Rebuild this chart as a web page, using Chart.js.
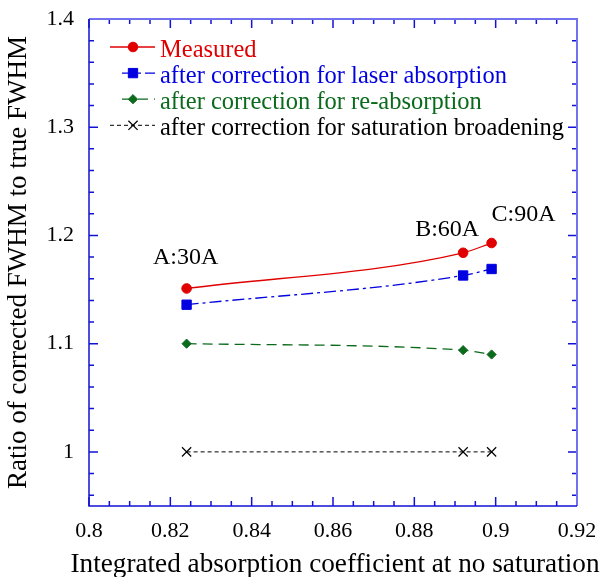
<!DOCTYPE html>
<html>
<head>
<meta charset="utf-8">
<script src="https://cdn.jsdelivr.net/npm/chart.js@4.4.0/dist/chart.umd.min.js"></script>
<style>
  html, body { margin: 0; padding: 0; background: #fff; }
  canvas { display: block; }
</style>
</head>
<body>
<canvas id="fwhmChart" width="601" height="577"></canvas>
<script>
// Data
const absorptionCoeff = [0.824, 0.892, 0.899];
const measuredRatio = [1.151, 1.184, 1.193];
const laserCorrectedRatio = [1.136, 1.163, 1.169];
const reabsCorrectedRatio = [1.100, 1.094, 1.090];
const saturationCorrectedRatio = [1.000, 1.000, 1.000];
const pointNames = ["A:30A", "B:60A", "C:90A"];
const seriesNames = [
    "Measured",
    "after correction for laser absorption",
    "after correction for re-absorption",
    "after correction for saturation broadening"
];
const xTickLabels = ["0.8", "0.82", "0.84", "0.86", "0.88", "0.9", "0.92"];
const yTickLabels = ["1", "1.1", "1.2", "1.3", "1.4"];
const xTitle = "Integrated absorption coefficient at no saturation";
const yTitle = "Ratio of corrected FWHM to true FWHM";

const serif = "'Liberation Serif', 'Times New Roman', serif";
const red = "#e00000";
const blue = "#0000e0";
const green = "#0b6a1c";
const black = "#000000";
const axisBlue = "#1212d4";
const frameLight = "#7272ee";

// label offsets (px) for the A/B/C notes above the measured points
const noteOffsets = [[-1, -24], [-16, -17], [32, -22]];

function toPoints(ys) {
    return absorptionCoeff.map((x, i) => ({ x: x, y: ys[i] }));
}

function labelFor(list, value) {
    const hit = list.find(l => Math.abs(parseFloat(l) - value) < 1e-9);
    return hit === undefined ? "" : hit;
}

// inward ticks on all four sides + frame
const frameTicks = {
    id: "frameTicks",
    afterDatasetsDraw(chart) {
        const { ctx, chartArea: a, scales } = chart;
        const xs = scales.x, ys = scales.y;
        ctx.save();
        ctx.lineWidth = 1.5;
        ctx.strokeStyle = axisBlue;
        for (let i = 0; i <= 24; i++) {
            const v = 0.8 + i * 0.005;
            const px = xs.getPixelForValue(v);
            const len = i % 4 === 0 ? 9 : 5;
            ctx.beginPath();
            ctx.moveTo(px, a.bottom); ctx.lineTo(px, a.bottom - len);
            ctx.moveTo(px, a.top); ctx.lineTo(px, a.top + len);
            ctx.stroke();
        }
        for (let i = 0; i <= 22; i++) {
            const v = 1.4 - i * 0.02;
            const py = ys.getPixelForValue(v);
            const len = i % 5 === 0 ? 9 : 5;
            ctx.beginPath();
            ctx.moveTo(a.left, py); ctx.lineTo(a.left + len, py);
            ctx.moveTo(a.right, py); ctx.lineTo(a.right - len, py);
            ctx.stroke();
        }
        // frame
        ctx.lineWidth = 2;
        ctx.strokeStyle = frameLight;
        ctx.beginPath();
        ctx.moveTo(a.left, a.top); ctx.lineTo(a.right, a.top); ctx.lineTo(a.right, a.bottom);
        ctx.stroke();
        ctx.lineWidth = 1.5;
        ctx.strokeStyle = axisBlue;
        ctx.beginPath();
        ctx.moveTo(a.left, a.top); ctx.lineTo(a.left, a.bottom); ctx.lineTo(a.right, a.bottom);
        ctx.stroke();
        ctx.restore();
    }
};

// A:30A etc. and the x axis title (a bit wider than the plot, so drawn here)
const textNotes = {
    id: "textNotes",
    afterDatasetsDraw(chart) {
        const { ctx, scales, chartArea: a } = chart;
        ctx.save();
        ctx.font = "24px " + serif;
        ctx.fillStyle = black;
        ctx.textAlign = "center";
        ctx.textBaseline = "alphabetic";
        pointNames.forEach((name, i) => {
            const px = scales.x.getPixelForValue(absorptionCoeff[i]) + noteOffsets[i][0];
            const py = scales.y.getPixelForValue(measuredRatio[i]) + noteOffsets[i][1];
            ctx.fillText(name, px, py);
        });
        ctx.font = "27px " + serif;
        const w = ctx.measureText(xTitle).width;
        const sx = 529 / w;
        ctx.translate((a.left + a.right) / 2 + 2, 571.5);
        ctx.scale(sx, 1);
        ctx.fillText(xTitle, 0, 0);
        ctx.restore();
    }
};

// legend inside the plot, line + marker + coloured text
const innerLegend = {
    id: "innerLegend",
    afterDraw(chart) {
        const { ctx, chartArea: a } = chart;
        const lineStart = [21, 33, 33, 21];
        ctx.save();
        chart.data.datasets.forEach((ds, i) => {
            const y = a.top + 28 + i * 26.1;
            ctx.strokeStyle = ds.borderColor;
            ctx.lineWidth = ds.borderWidth;
            ctx.setLineDash(ds.borderDash || []);
            ctx.beginPath();
            ctx.moveTo(a.left + lineStart[i], y);
            ctx.lineTo(a.left + 66, y);
            ctx.stroke();
            ctx.setLineDash([]);
            ctx.fillStyle = ds.pointBackgroundColor;
            ctx.strokeStyle = ds.pointBorderColor;
            ctx.lineWidth = ds.pointBorderWidth;
            Chart.helpers.drawPoint(ctx, {
                pointStyle: ds.pointStyle,
                radius: ds.pointRadius,
                rotation: 0,
                borderWidth: ds.pointBorderWidth
            }, a.left + 44, y);
            ctx.font = "24.5px " + serif;
            ctx.fillStyle = ds.borderColor;
            ctx.textAlign = "left";
            ctx.textBaseline = "alphabetic";
            ctx.fillText(ds.label, a.left + 71, y + 10);
        });
        ctx.restore();
    }
};

new Chart(document.getElementById("fwhmChart").getContext("2d"), {
    type: "line",
    data: {
        datasets: [
            {
                label: seriesNames[0],
                data: toPoints(measuredRatio),
                borderColor: red, pointBackgroundColor: red, pointBorderColor: red,
                borderWidth: 1.3, pointBorderWidth: 1,
                pointStyle: "circle", pointRadius: 4.8,
                cubicInterpolationMode: "monotone"
            },
            {
                label: seriesNames[1],
                data: toPoints(laserCorrectedRatio),
                borderColor: blue, pointBackgroundColor: blue, pointBorderColor: blue,
                borderWidth: 1.3, pointBorderWidth: 1, borderDash: [12, 4, 3, 4],
                pointStyle: "rect", pointRadius: 6.6,
                cubicInterpolationMode: "monotone"
            },
            {
                label: seriesNames[2],
                data: toPoints(reabsCorrectedRatio),
                borderColor: green, pointBackgroundColor: green, pointBorderColor: green,
                borderWidth: 1.3, pointBorderWidth: 1, borderDash: [10, 6],
                pointStyle: "rectRot", pointRadius: 4.6,
                cubicInterpolationMode: "monotone"
            },
            {
                label: seriesNames[3],
                data: toPoints(saturationCorrectedRatio),
                borderColor: black, pointBackgroundColor: black, pointBorderColor: black,
                borderWidth: 1, pointBorderWidth: 1.2, borderDash: [4, 3],
                pointStyle: "crossRot", pointRadius: 6.5
            }
        ]
    },
    options: {
        responsive: false,
        animation: false,
        events: [],
        layout: { padding: { top: 19, right: 24, left: 0, bottom: 0 } },
        plugins: { legend: { display: false }, tooltip: { enabled: false } },
        scales: {
            x: {
                type: "linear",
                min: 0.8, max: 0.92,
                afterBuildTicks: s => { s.ticks = xTickLabels.map(l => ({ value: parseFloat(l) })); },
                afterFit: s => { s.height = 71; s.paddingLeft = 0; s.paddingRight = 0; },
                grid: { display: false, drawTicks: false },
                border: { display: false },
                ticks: {
                    autoSkip: false, maxRotation: 0, padding: 12,
                    color: black, font: { family: serif, size: 22 },
                    callback: v => labelFor(xTickLabels, v)
                },
                title: { display: false }
            },
            y: {
                type: "linear",
                min: 0.95, max: 1.4,
                afterBuildTicks: s => { s.ticks = yTickLabels.map(l => ({ value: parseFloat(l) })); },
                afterFit: s => { s.width = 89; s.paddingTop = 0; s.paddingBottom = 0; },
                grid: { display: false, drawTicks: false },
                border: { display: false },
                ticks: {
                    autoSkip: false, padding: 15,
                    color: black, font: { family: serif, size: 22 },
                    callback: v => labelFor(yTickLabels, v)
                },
                title: {
                    display: true,
                    text: yTitle,
                    color: black,
                    font: { family: serif, size: 27, lineHeight: 1 },
                    padding: { top: 5, bottom: 0 }
                }
            }
        }
    },
    plugins: [frameTicks, textNotes, innerLegend]
});
</script>
</body>
</html>
